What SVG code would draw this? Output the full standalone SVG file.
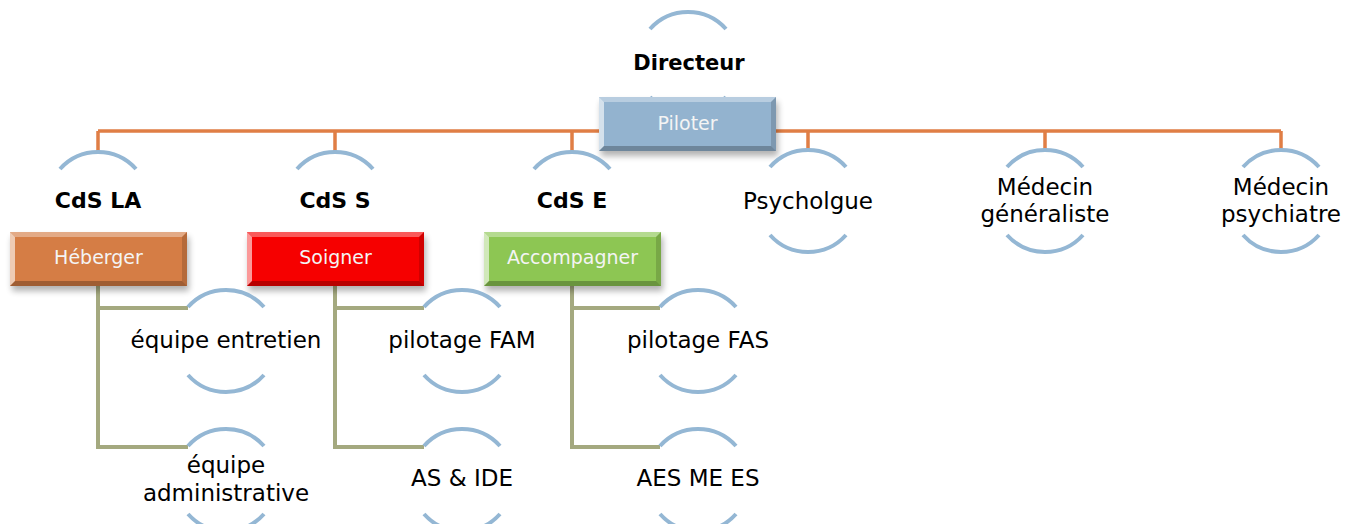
<svg xmlns="http://www.w3.org/2000/svg" width="1355" height="524" viewBox="0 0 1355 524">
<defs>
<style>
.arc{fill:none;stroke:#94B7D4;stroke-width:4}
.org{fill:none;stroke:#E07E45;stroke-width:3.5}
.grn{fill:none;stroke:#A4A97F;stroke-width:4}
.lbl{font-family:"DejaVu Sans","Liberation Sans",sans-serif;font-size:23px;fill:#000;text-anchor:middle}
.bld{font-family:"DejaVu Sans","Liberation Sans",sans-serif;font-size:22px;font-weight:bold;fill:#000;text-anchor:middle}
.btx{font-family:"DejaVu Sans","Liberation Sans",sans-serif;font-size:19px;fill:#F4F4F4;text-anchor:middle}
.hi{fill:#FFFFFF;opacity:0.35}
.hi2{fill:#FFFFFF;opacity:0.6}
.lo{fill:#000000;opacity:0.15}
.lo2{fill:#000000;opacity:0.25}
</style>
<filter id="sh" x="-10%" y="-20%" width="130%" height="160%">
<feGaussianBlur stdDeviation="3"/>
</filter>
<g id="bevel">
<rect x="2" y="5" width="177" height="54" fill="#000" opacity="0.3" filter="url(#sh)"/>
</g>
<g id="bev">
<polygon class="hi" points="0,0 177,0 172,5 5,5"/>
<polygon class="hi2" points="0,0 5,5 5,49 0,54"/>
<polygon class="lo" points="177,0 177,54 172,49 172,5"/>
<polygon class="lo2" points="0,54 5,49 172,49 177,54"/>
</g>
</defs>
<rect width="1355" height="524" fill="#FFFFFF"/>

<g id="connectors">
<path class="org" d="M98,131 H1281 M98,131 V152 M335,131 V152 M572,131 V152 M808,131 V150 M1045,131 V150 M1281,131 V150"/>
<path class="grn" d="M98,286 V447 H188 M98,308 H188"/>
<path class="grn" d="M335,286 V447 H424 M335,308 H424"/>
<path class="grn" d="M572,286 V447 H660 M572,308 H660"/>
</g>

<g id="node-directeur">
<path class="arc" d="M650,29 A51,51 0 0 1 726,29 M650,97 A51,51 0 0 0 726,97"/>
<text class="bld" x="689" y="70" style="font-size:21px">Directeur</text>
<g transform="translate(599,97)">
<use href="#bevel"/>
<rect width="177" height="54" fill="#93B3CF"/>
<use href="#bev"/>
<text class="btx" x="88.5" y="33">Piloter</text>
</g>
</g>

<g id="node-cdsla">
<path class="arc" d="M60,169 A51,51 0 0 1 136,169 M60,237 A51,51 0 0 0 136,237"/>
<text class="bld" x="98" y="208">CdS LA</text>
<g transform="translate(10,232)">
<use href="#bevel"/>
<rect width="177" height="54" fill="#D57D45"/>
<use href="#bev"/>
<text class="btx" x="88.5" y="32">Héberger</text>
</g>
</g>

<g id="node-cdss">
<path class="arc" d="M297,169 A51,51 0 0 1 373,169 M297,237 A51,51 0 0 0 373,237"/>
<text class="bld" x="335" y="208">CdS S</text>
<g transform="translate(247,232)">
<use href="#bevel"/>
<rect width="177" height="54" fill="#F60000"/>
<use href="#bev"/>
<text class="btx" x="88.5" y="32">Soigner</text>
</g>
</g>

<g id="node-cdse">
<path class="arc" d="M534,169 A51,51 0 0 1 610,169 M534,237 A51,51 0 0 0 610,237"/>
<text class="bld" x="572" y="208">CdS E</text>
<g transform="translate(484,232)">
<use href="#bevel"/>
<rect width="177" height="54" fill="#8DC653"/>
<use href="#bev"/>
<text class="btx" x="88.5" y="32">Accompagner</text>
</g>
</g>

<g id="node-psy">
<path class="arc" d="M770,167 A51,51 0 0 1 846,167 M770,235 A51,51 0 0 0 846,235"/>
<text class="lbl" x="808" y="209">Psycholgue</text>
</g>

<g id="node-medgen">
<path class="arc" d="M1007,167 A51,51 0 0 1 1083,167 M1007,235 A51,51 0 0 0 1083,235"/>
<text class="lbl" x="1045" y="195">Médecin</text>
<text class="lbl" x="1045" y="222">généraliste</text>
</g>

<g id="node-medpsy">
<path class="arc" d="M1243,167 A51,51 0 0 1 1319,167 M1243,235 A51,51 0 0 0 1319,235"/>
<text class="lbl" x="1281" y="195">Médecin</text>
<text class="lbl" x="1281" y="222">psychiatre</text>
</g>

<g id="node-entretien">
<path class="arc" d="M188,307 A51,51 0 0 1 264,307 M188,375 A51,51 0 0 0 264,375"/>
<text class="lbl" x="226" y="348">équipe entretien</text>
</g>

<g id="node-admin">
<path class="arc" d="M188,446 A51,51 0 0 1 264,446 M188,514 A51,51 0 0 0 264,514"/>
<text class="lbl" x="226" y="473">équipe</text>
<text class="lbl" x="226" y="501">administrative</text>
</g>

<g id="node-fam">
<path class="arc" d="M424,307 A51,51 0 0 1 500,307 M424,375 A51,51 0 0 0 500,375"/>
<text class="lbl" x="462" y="348">pilotage FAM</text>
</g>

<g id="node-aside">
<path class="arc" d="M424,446 A51,51 0 0 1 500,446 M424,514 A51,51 0 0 0 500,514"/>
<text class="lbl" x="462" y="486">AS &amp; IDE</text>
</g>

<g id="node-fas">
<path class="arc" d="M660,307 A51,51 0 0 1 736,307 M660,375 A51,51 0 0 0 736,375"/>
<text class="lbl" x="698" y="348">pilotage FAS</text>
</g>

<g id="node-aes">
<path class="arc" d="M660,446 A51,51 0 0 1 736,446 M660,514 A51,51 0 0 0 736,514"/>
<text class="lbl" x="698" y="486">AES ME ES</text>
</g>
</svg>
